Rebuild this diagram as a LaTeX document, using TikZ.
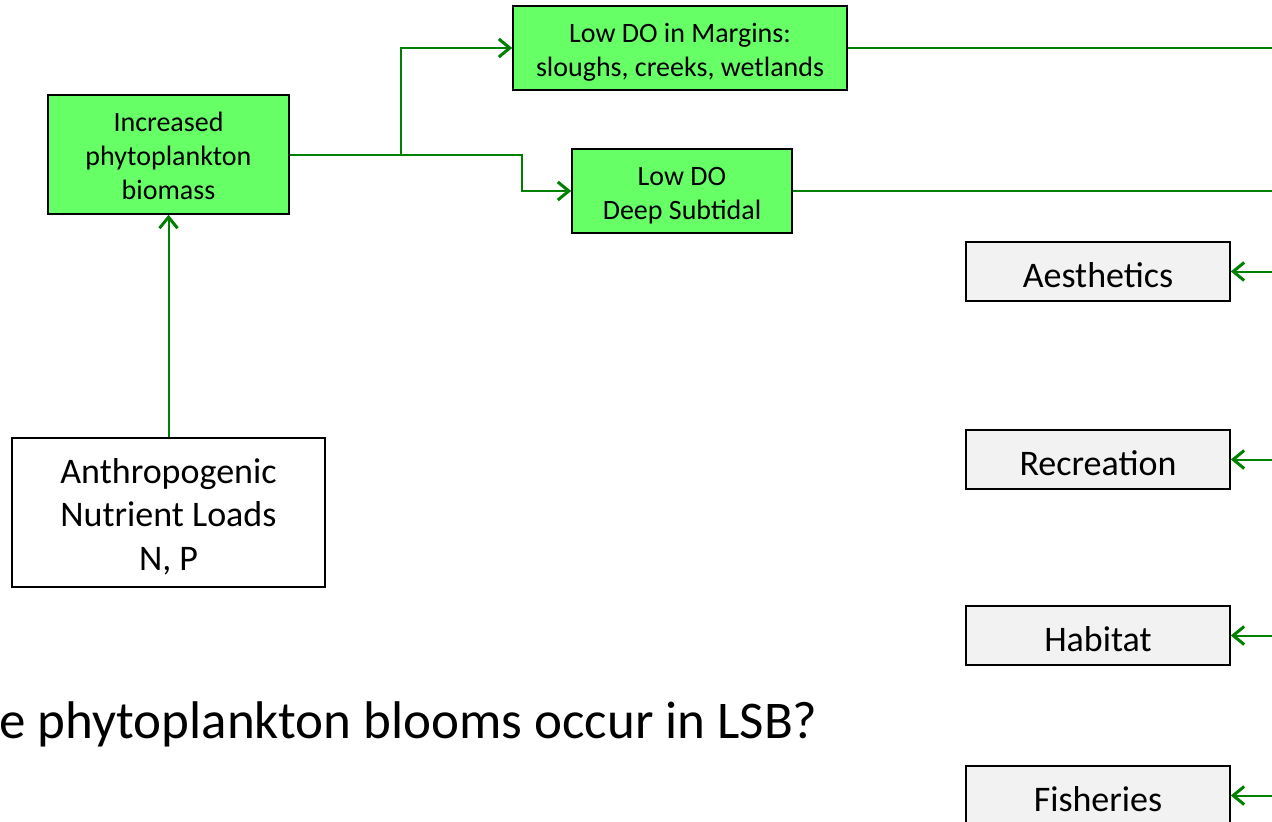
\documentclass[tikz,border=0pt]{standalone}
\usepackage{fontspec}
\setmainfont{Carlito}
\usetikzlibrary{arrows.meta}
\definecolor{boxgreen}{HTML}{66FF66}
\definecolor{boxgrey}{HTML}{F2F2F2}
\definecolor{linkgreen}{HTML}{008000}
% lower a block of text inside its box without changing the box
\newcommand{\lowered}[2]{\raisebox{-#1}[\height][\depth]{#2}}
\tikzset{
  box/.style={draw=black, line width=1.6pt, inner sep=0pt, align=center},
  greenbox/.style={box, fill=boxgreen, font=\fontsize{28}{34}\selectfont},
  whitebox/.style={box, fill=white, font=\fontsize{36}{43.5}\selectfont},
  greybox/.style={box, fill=boxgrey, minimum width=264pt, minimum height=59pt,
                  font=\fontsize{36}{43.5}\selectfont},
  link/.style={draw=linkgreen, line width=2pt},
  arr/.style={link, -{Straight Barb[length=11pt, width=18pt, line width=3pt]}},
}
\begin{document}
\begin{tikzpicture}[x=1pt, y=-1pt]
  \useasboundingbox (0,0) rectangle (1272,822);
  \clip (0,0) rectangle (1272,822);

  % causes and intermediate effects
  \node[whitebox, minimum width=313pt, minimum height=149pt] (load) at (168.5,512.5)
    {\lowered{4pt}{\parbox{300pt}{\centering Anthropogenic\\Nutrient Loads\\N, P}}};
  \node[greenbox, minimum width=241pt, minimum height=119pt] (bio) at (168.5,154.5)
    {\lowered{1.5pt}{\parbox{230pt}{\centering Increased\\phytoplankton\\biomass}}};
  \node[greenbox, minimum width=334pt, minimum height=84pt] (margin) at (680,48)
    {\lowered{4pt}{\parbox{320pt}{\centering Low DO in Margins:\\sloughs, creeks, wetlands}}};
  \node[greenbox, minimum width=220pt, minimum height=84pt] (deep) at (682,191)
    {\lowered{4.5pt}{\parbox{210pt}{\centering Low DO\\Deep Subtidal}}};

  % beneficial uses
  \node[greybox] (aes) at (1098,271.5) {\lowered{3.5pt}{Aesthetics}};
  \node[greybox] (rec) at (1098,459.5) {\lowered{3.5pt}{Recreation}};
  \node[greybox] (hab) at (1098,635.5) {\lowered{3.5pt}{Habitat}};
  \node[greybox] (fish) at (1098,795.5) {\lowered{3.5pt}{Fisheries}};

  % question line
  \node[anchor=base west, inner sep=0pt, font=\fontsize{53}{64}\selectfont] (q) at (-1,738)
    {e phytoplankton blooms occur in LSB?};

  % routing points
  \coordinate (split) at (401,154.5);
  \coordinate (bend) at (522,154.5);
  \coordinate (outA) at (1280,48);
  \coordinate (outB) at (1280,191);
  \coordinate (inA) at (1280,271.5);
  \coordinate (inR) at (1280,459.5);
  \coordinate (inH) at (1280,635.5);
  \coordinate (inF) at (1280,795.5);

  % connectors
  \draw[arr] (load.north) -- (bio.south);
  \draw[link] (bio.east) -- (split);
  \draw[arr] (split) |- (margin.west);
  \draw[arr] (split) -- (bend) |- (deep.west);
  \draw[link] (margin.east) -- (outA);
  \draw[link] (deep.east) -- (outB);
  \draw[arr] (inA) -- (aes.east);
  \draw[arr] (inR) -- (rec.east);
  \draw[arr] (inH) -- (hab.east);
  \draw[arr] (inF) -- (fish.east);
\end{tikzpicture}
\end{document}
